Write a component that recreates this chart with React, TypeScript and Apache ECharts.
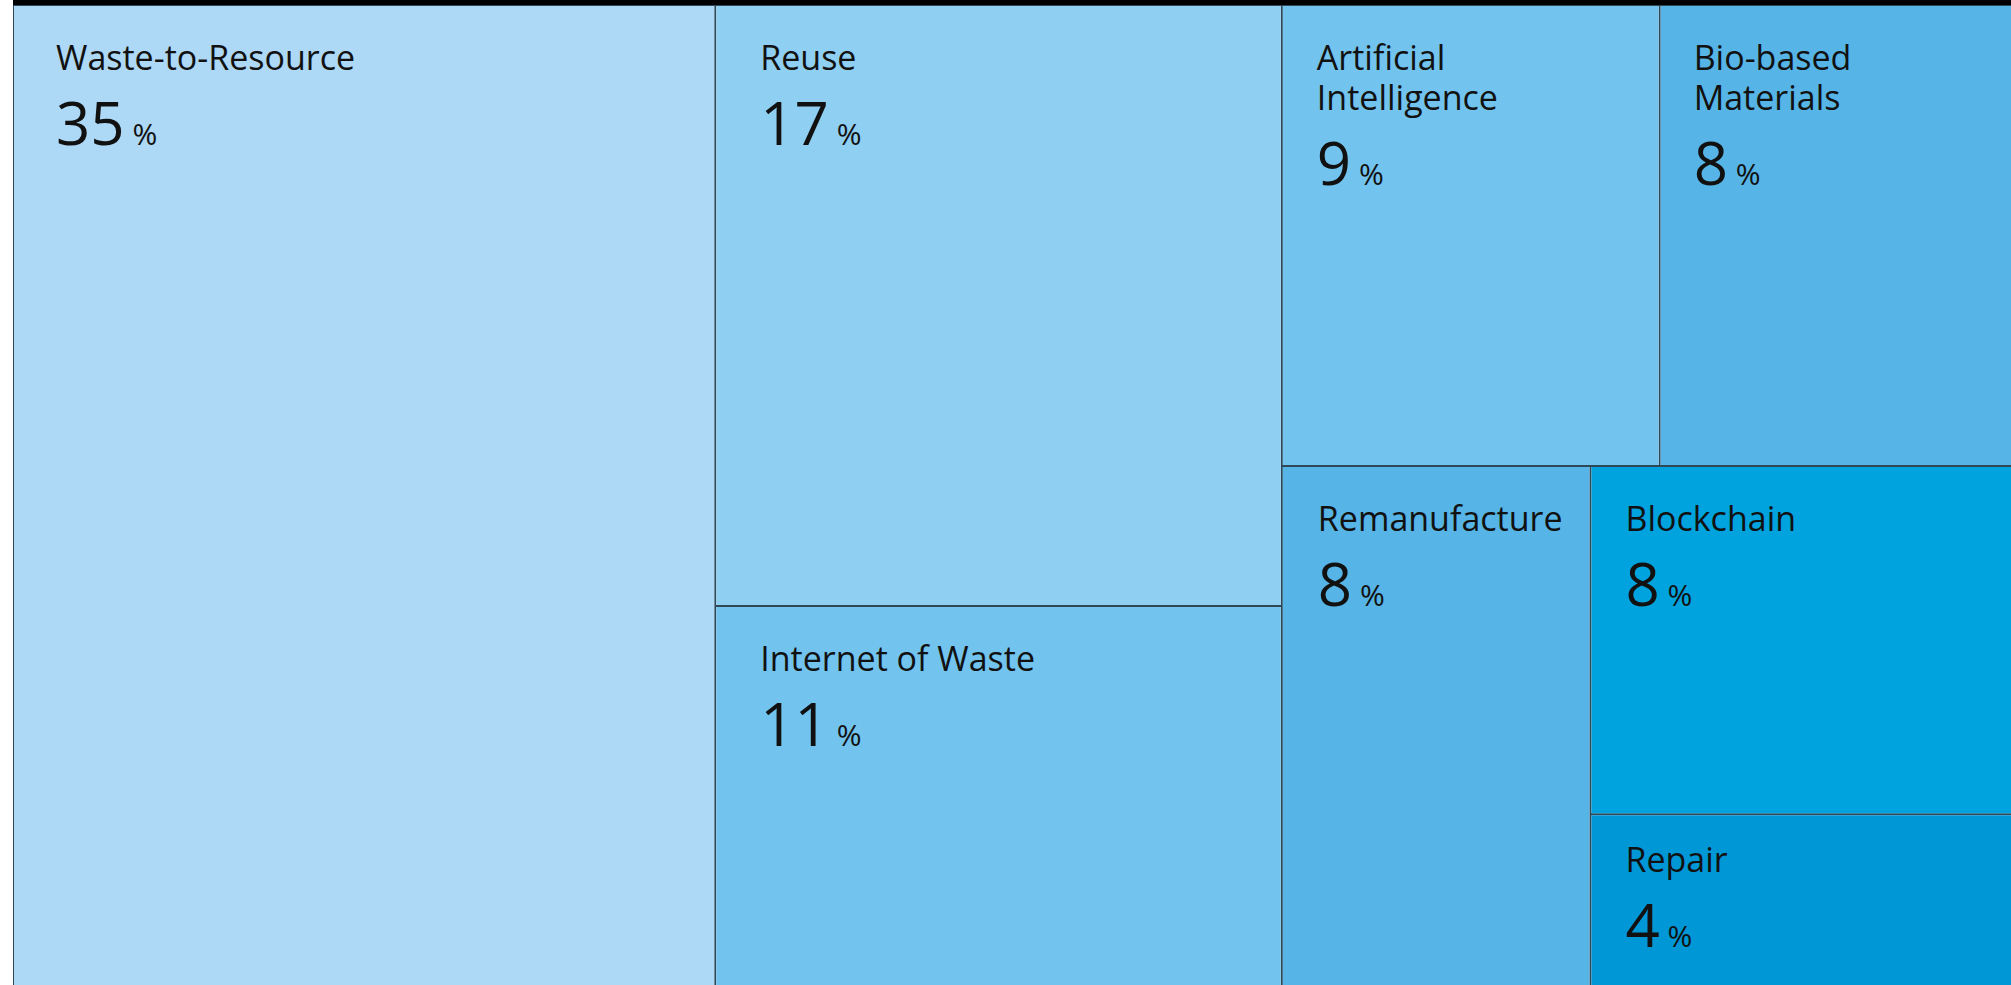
import React, { useEffect, useRef } from 'react';
import * as echarts from 'echarts';

// Technology categories and their shares (%)
const categories = [
  'Waste-to-Resource',
  'Reuse',
  'Internet of Waste',
  'Artificial Intelligence',
  'Bio-based Materials',
  'Remanufacture',
  'Blockchain',
  'Repair',
];
const shares = [35.2, 17.4, 11.0, 8.9, 8.3, 8.2, 7.5, 3.7];

// styling (kept apart from the data)
const fills = ['#ADD8F6', '#8FCFF2', '#72C4EE', '#72C4EE', '#56B5E6', '#56B5E6', '#00A3DE', '#0097D6'];
const labelPad = [
  [31, 42],
  [31, 44],
  [31, 44],
  [31, 34],
  [31, 33],
  [31, 35],
  [31, 34],
  [24, 34],
];
const nameLines: Record<string, string> = {
  'Artificial Intelligence': 'Artificial\nIntelligence',
  'Bio-based Materials': 'Bio-based\nMaterials',
};

const FONT = '"Open Sans", "Noto Sans", sans-serif';

export default function App() {
  const ref = useRef<HTMLDivElement>(null);

  useEffect(() => {
    if (!ref.current) return;
    const chart = echarts.init(ref.current, null, { renderer: 'svg' });
    chart.setOption({
      animation: false,
      backgroundColor: '#ffffff',
      graphic: [
        {
          type: 'rect',
          z: 100,
          shape: { x: 13, y: 0, width: 1998, height: 5 },
          style: { fill: '#000000' },
        },
      ],
      series: [
        {
          type: 'treemap',
          left: 13,
          top: 5,
          right: -1,
          bottom: -1,
          squareRatio: 1,
          roam: false,
          nodeClick: false,
          breadcrumb: { show: false },
          levels: [
            { itemStyle: { borderWidth: 1, borderColor: '#2f4858', gapWidth: 2 } },
            { itemStyle: { borderWidth: 0, gapWidth: 0 } },
          ],
          label: {
            show: true,
            position: 'insideTopLeft',
            distance: 0,
            overflow: 'none',
            color: '#111111',
            fontFamily: FONT,
            formatter: (p: any) =>
              `{name|${nameLines[p.name] ?? p.name}}\n{val|${Math.round(p.value)}}{pct| %}`,
            rich: {
              name: { fontSize: 34, lineHeight: 40, color: '#111111', fontFamily: FONT },
              val: { fontSize: 60, fontWeight: 400, lineHeight: 89, color: '#111111', fontFamily: FONT },
              pct: {
                fontSize: 30,
                verticalAlign: 'bottom',
                padding: [0, 0, 18, 0],
                color: '#111111',
                fontFamily: FONT,
              },
            },
          },
          data: categories.map((name, i) => ({
            name,
            value: shares[i],
            itemStyle: { color: fills[i] },
            label: { padding: [labelPad[i][0], 0, 0, labelPad[i][1]] },
          })),
        },
      ],
    });
    return () => chart.dispose();
  }, []);

  return (
    <div style={{ position: 'fixed', left: 0, top: 0, width: 2011, height: 985, background: '#fff' }}>
      <div ref={ref} style={{ width: 2011, height: 985 }} />
    </div>
  );
}
